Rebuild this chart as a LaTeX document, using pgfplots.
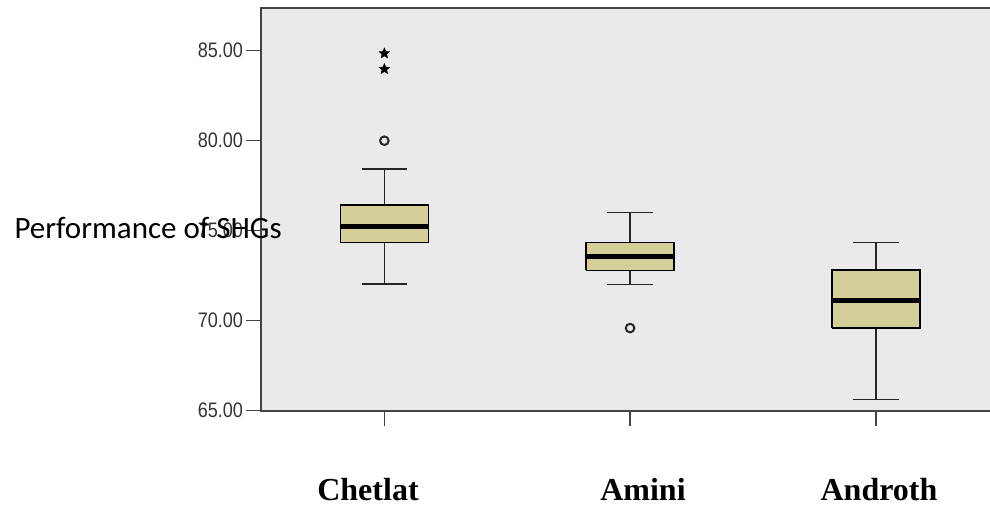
\documentclass[border=0pt]{standalone}
\usepackage{pgfplots}
\pgfplotsset{compat=1.18}
\usepackage{fontspec}
\setmainfont{Liberation Sans}
\newfontfamily\mytickfont[FakeStretch=0.86]{Liberation Sans}
\newfontfamily\ylabfont{Carlito}
\newfontfamily\catfont{Liberation Serif}
\definecolor{boxfill}{HTML}{D4CF98}
\definecolor{bggray}{HTML}{EAEAEA}
\definecolor{axgray}{HTML}{444444}

\pgfdeclareplotmark{fstar}{%
 \pgfpathmoveto{\pgfqpoint{0pt}{5.5pt}}%
 \pgfpathlineto{\pgfqpoint{-1.4548pt}{2.0023pt}}%
 \pgfpathlineto{\pgfqpoint{-5.2308pt}{1.6996pt}}%
 \pgfpathlineto{\pgfqpoint{-2.3539pt}{-0.7648pt}}%
 \pgfpathlineto{\pgfqpoint{-3.2328pt}{-4.4496pt}}%
 \pgfpathlineto{\pgfqpoint{0pt}{-2.475pt}}%
 \pgfpathlineto{\pgfqpoint{3.2328pt}{-4.4496pt}}%
 \pgfpathlineto{\pgfqpoint{2.3539pt}{-0.7648pt}}%
 \pgfpathlineto{\pgfqpoint{5.2308pt}{1.6996pt}}%
 \pgfpathlineto{\pgfqpoint{1.4548pt}{2.0023pt}}%
 \pgfpathclose
 \pgfusepathqfillstroke}

\pgfplotsset{
  wh/.style={black!85, line width=1.5pt, no marks},
  bx/.style={draw=black, fill=boxfill, line width=1.5pt, no marks, line join=miter},
  md/.style={black, line width=5pt, no marks},
}

\begin{document}
\begin{tikzpicture}
\path[use as bounding box] (-261.5pt,-96.3pt) rectangle (728.5pt,410.7pt);
\begin{axis}[
  at={(0pt,0pt)}, anchor=south west,
  scale only axis, width=745pt, height=402.4pt,
  xmin=0.5, xmax=3.532,
  ymin=65, ymax=87.356,
  axis background/.style={fill=bggray},
  axis line style={axgray, line width=2pt},
  xtick={1,2,3}, xticklabels={},
  ytick={65,70,75,80,85},
  tick align=outside, tick pos=left,
  major tick length=15pt,
  tick style={axgray, line width=1.5pt},
  /pgf/number format/assume math mode=true,
  yticklabel style={font=\mytickfont\fontsize{21pt}{24pt}\selectfont, text=black!80,
    /pgf/number format/.cd, fixed, fixed zerofill, precision=2, assume math mode=true},
]
% Chetlat
\addplot[wh] coordinates {(1,76.44) (1,78.43)};
\addplot[wh] coordinates {(0.907,78.43) (1.093,78.43)};
\addplot[wh] coordinates {(1,74.35) (1,72.04)};
\addplot[wh] coordinates {(0.907,72.04) (1.093,72.04)};
\addplot[bx] coordinates {(0.821,74.35) (1.179,74.35) (1.179,76.44) (0.821,76.44) (0.821,74.35)};
\addplot[md] coordinates {(0.821,75.22) (1.179,75.22)};
% Amini
\addplot[wh] coordinates {(2,74.35) (2,76.00)};
\addplot[wh] coordinates {(1.907,76.00) (2.093,76.00)};
\addplot[wh] coordinates {(2,72.80) (2,72.02)};
\addplot[wh] coordinates {(1.907,72.02) (2.093,72.02)};
\addplot[bx] coordinates {(1.821,72.80) (2.179,72.80) (2.179,74.35) (1.821,74.35) (1.821,72.80)};
\addplot[md] coordinates {(1.821,73.59) (2.179,73.59)};
% Androth
\addplot[wh] coordinates {(3,72.82) (3,74.35)};
\addplot[wh] coordinates {(2.907,74.35) (3.093,74.35)};
\addplot[wh] coordinates {(3,69.59) (3,65.61)};
\addplot[wh] coordinates {(2.907,65.61) (3.093,65.61)};
\addplot[bx] coordinates {(2.821,69.59) (3.179,69.59) (3.179,72.82) (2.821,72.82) (2.821,69.59)};
\addplot[md] coordinates {(2.821,71.15) (3.179,71.15)};
% outliers
\addplot[only marks, mark=o, mark size=4.3pt, line width=2pt, black!85]
  coordinates {(1,80.00) (2,69.59)};
\addplot[only marks, mark=fstar, line width=0.4pt, black]
  coordinates {(1,84.85) (1,83.98)};
\end{axis}
\node[anchor=base west, font=\ylabfont\fontsize{31pt}{36pt}\selectfont] at (-250.5pt,172.4pt) {Performance of SHGs};
\node[anchor=base, font=\catfont\bfseries\fontsize{32pt}{36pt}\selectfont] at (106.5pt,-89.6pt) {Chetlat};
\node[anchor=base, font=\catfont\bfseries\fontsize{32pt}{36pt}\selectfont] at (381.5pt,-89.6pt) {Amini};
\node[anchor=base, font=\catfont\bfseries\fontsize{32pt}{36pt}\selectfont] at (617.5pt,-89.6pt) {Androth};
\end{tikzpicture}
\end{document}
